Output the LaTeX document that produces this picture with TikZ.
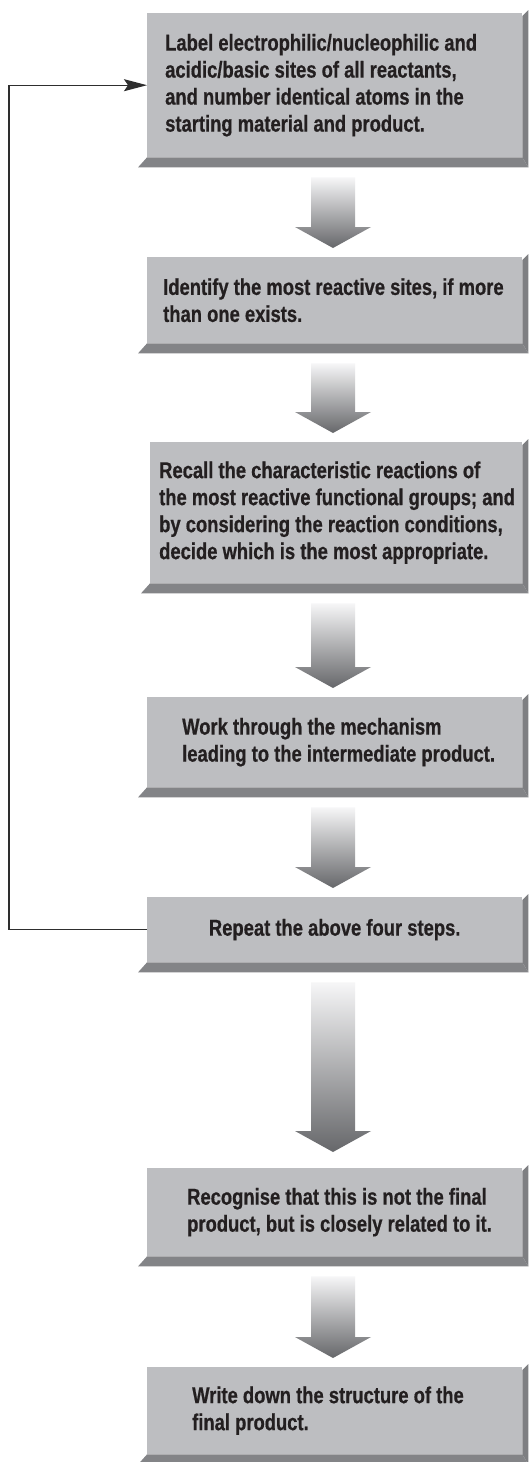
\documentclass[tikz,border=0pt]{standalone}
\usepackage{fontspec}
\newfontfamily\condfont{Liberation Sans}[FakeStretch=0.8, BoldFeatures={FakeBold=0.6}]
\usetikzlibrary{arrows.meta,calc}
\definecolor{face}{HTML}{BDBEC1}
\definecolor{bevR}{HTML}{7E7F82}
\definecolor{bevB}{HTML}{838487}
\definecolor{ink}{HTML}{231F20}
\definecolor{arrTop}{HTML}{F6F6F7}
\definecolor{arrBot}{HTML}{66676A}
\definecolor{loopc}{HTML}{2E2E2E}
\newcommand\bevelbox[1]{%
  \fill[bevR] ([yshift=-3pt]#1.north east) -- ([xshift=6pt,yshift=3pt]#1.north east)
     -- ([xshift=6pt,yshift=-10pt]#1.south east) -- (#1.south east) -- cycle;
  \fill[bevB] (#1.south west) -- (#1.south east) -- ([xshift=6pt,yshift=-10pt]#1.south east)
     -- ([xshift=-9pt,yshift=-10pt]#1.south west) -- cycle;}
\def\ax{333pt}
\newcommand\blockarrow[3][9pt]{%
  \shade[top color=arrTop, bottom color=arrBot] let \p1=(#2.south), \p2=(#3.north) in
    (\ax-22pt,\y1-20pt) -- (\ax+22pt,\y1-20pt) -- (\ax+22pt,\y2+#1+21pt)
    -- (\ax+38pt,\y2+#1+21pt) -- (\ax,\y2+#1) -- (\ax-38pt,\y2+#1+21pt)
    -- (\ax-22pt,\y2+#1+21pt) -- cycle;}
\begin{document}
\begin{tikzpicture}[x=1pt,y=-1pt,
  box/.style={fill=face, draw=none, inner sep=0pt, minimum width=375pt, anchor=north west},
  boxtext/.style={inner sep=0pt, align=left, text=ink,
    font=\condfont\bfseries\fontsize{23}{27}\selectfont},
  loopline/.style={draw=loopc, line width=1.2pt,
    -{Stealth[length=23pt,width=12pt,inset=4pt]}}]
\useasboundingbox (0,0) rectangle (528,1462);
\fill[white] (0,0) rectangle (528,1462);

\node[box, minimum height=144pt] (b1) at (147,13) {};
\bevelbox{b1}
\node[box, minimum height=86pt] (b2) at (147,257) {};
\bevelbox{b2}
\node[box, minimum width=372pt, minimum height=141pt] (b3) at (150,442) {};
\bevelbox{b3}
\node[box, minimum height=90pt] (b4) at (147,697) {};
\bevelbox{b4}
\node[box, minimum height=65pt] (b5) at (147,897) {};
\bevelbox{b5}
\node[box, minimum height=88pt] (b6) at (147,1168) {};
\bevelbox{b6}
\node[box, minimum height=87pt] (b7) at (147,1367) {};
\bevelbox{b7}

\node[boxtext, anchor=west] (t1) at ([xshift=18pt]b1.west)
  {Label electrophilic/nucleophilic and\\acidic/basic sites of all reactants,\\and number identical atoms in the\\starting material and product.};
\node[boxtext, anchor=west] (t2) at ([xshift=16pt]b2.west)
  {Identify the most reactive sites, if more\\than one exists.};
\node[boxtext, anchor=west] (t3) at ([xshift=9pt]b3.west)
  {Recall the characteristic reactions of\\the most reactive functional groups; and\\by considering the reaction conditions,\\decide which is the most appropriate.};
\node[boxtext, anchor=west] (t4) at ([xshift=35pt]b4.west)
  {Work through the mechanism\\leading to the intermediate product.};
\node[boxtext] (t5) at (b5.center) {Repeat the above four steps.};
\node[boxtext, anchor=west] (t6) at ([xshift=40pt]b6.west)
  {Recognise that this is not the final\\product, but is closely related to it.};
\node[boxtext, anchor=west] (t7) at ([xshift=45pt]b7.west)
  {Write down the structure of the\\final product.};

\blockarrow{b1}{b2}
\blockarrow{b2}{b3}
\blockarrow{b3}{b4}
\blockarrow{b4}{b5}
\blockarrow[16pt]{b5}{b6}
\blockarrow{b6}{b7}

\draw[loopline] (b5.west) -- ++(-138,0) |- (b1.west);
\end{tikzpicture}
\end{document}
